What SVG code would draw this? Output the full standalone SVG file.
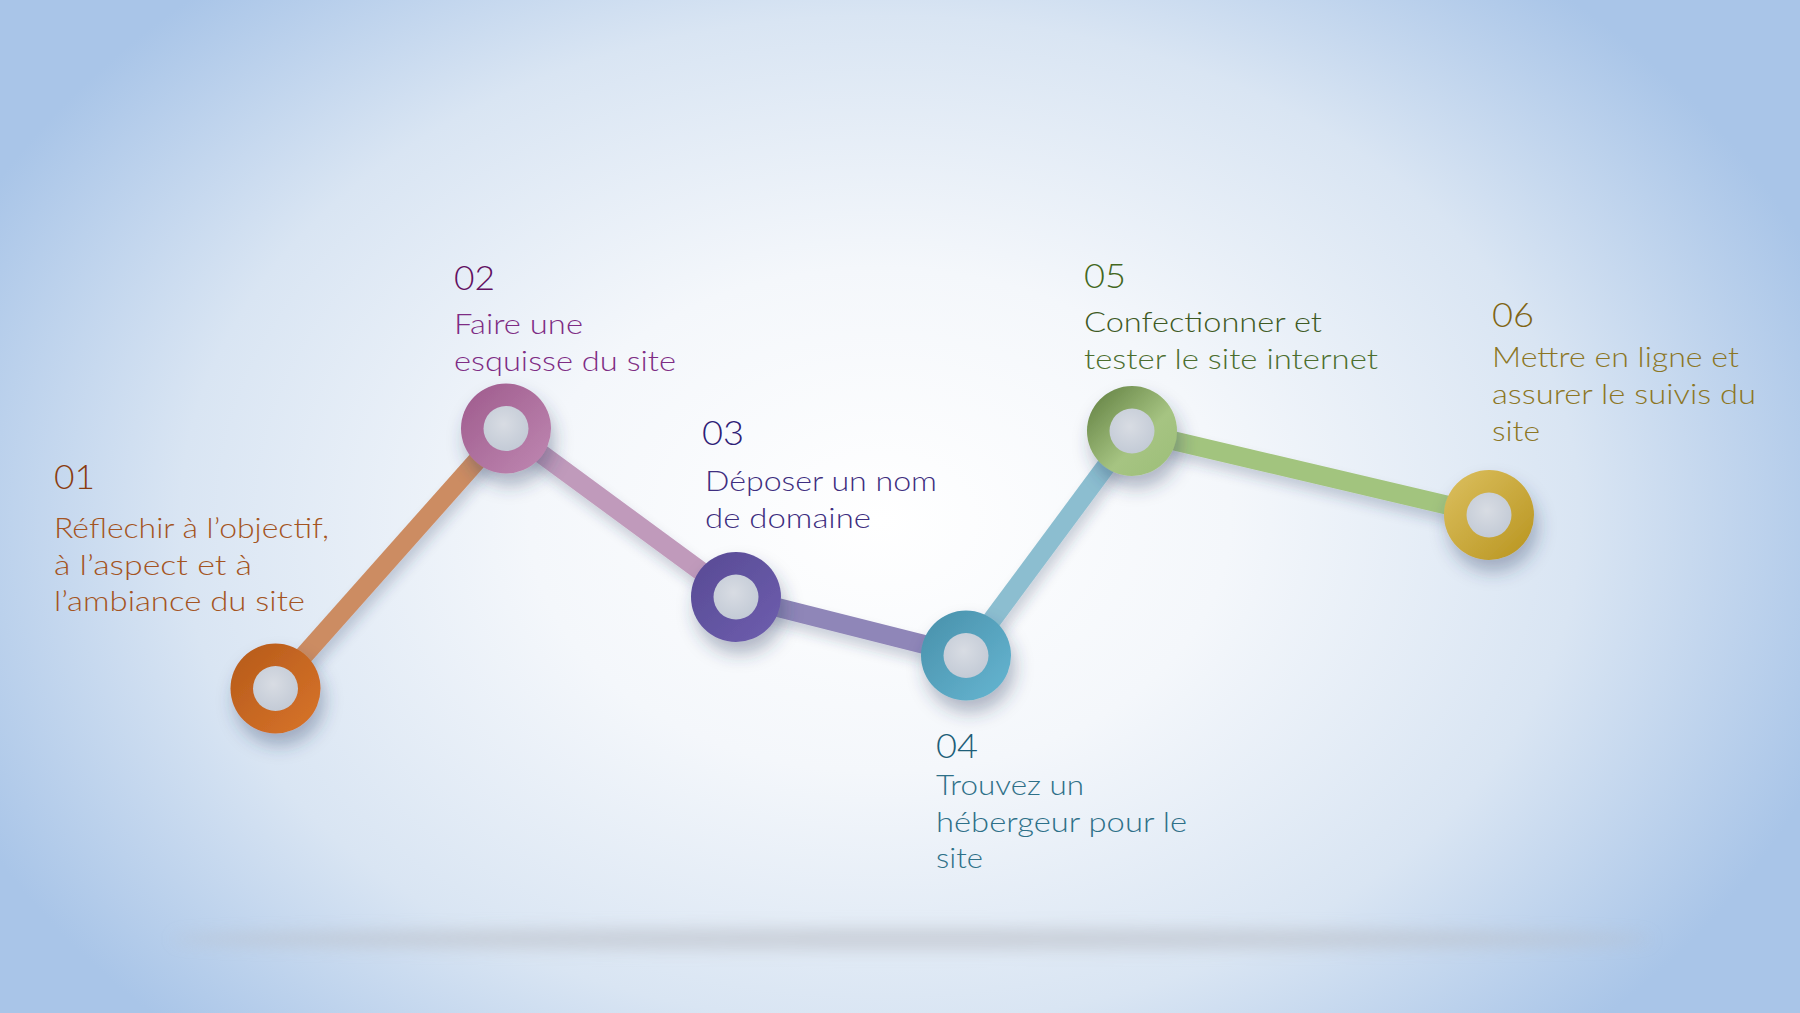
<svg xmlns="http://www.w3.org/2000/svg" width="1800" height="1013" viewBox="0 0 1800 1013">
<defs>
<radialGradient id="bg" gradientUnits="userSpaceOnUse" cx="880" cy="520" r="1000" gradientTransform="translate(880 520) scale(1 0.72) translate(-880 -520)">
<stop offset="0" stop-color="#ffffff"/>
<stop offset="0.35" stop-color="#f4f7fb"/>
<stop offset="0.7" stop-color="#d9e5f3"/>
<stop offset="1" stop-color="#a9c5e8"/>
</radialGradient>
<filter id="sh" x="-60%" y="-60%" width="220%" height="220%">
<feGaussianBlur in="SourceAlpha" stdDeviation="9"/>
<feOffset dx="4" dy="12" result="b"/>
<feFlood flood-color="#2c3c60" flood-opacity="0.35"/>
<feComposite in2="b" operator="in"/>
<feMerge><feMergeNode/><feMergeNode in="SourceGraphic"/></feMerge>
</filter>
<filter id="lsh" x="-20%" y="-20%" width="140%" height="140%">
<feGaussianBlur in="SourceAlpha" stdDeviation="6"/>
<feOffset dx="3" dy="9" result="b"/>
<feFlood flood-color="#2c3c60" flood-opacity="0.22"/>
<feComposite in2="b" operator="in"/>
<feMerge><feMergeNode/><feMergeNode in="SourceGraphic"/></feMerge>
</filter>
<filter id="floor" x="-10%" y="-300%" width="120%" height="700%">
<feGaussianBlur stdDeviation="8"/>
</filter>
<linearGradient id="g1" x1="0" y1="0" x2="1" y2="1"><stop offset="0" stop-color="#b55a1a"/><stop offset="1" stop-color="#d8742a"/></linearGradient>
<linearGradient id="g2" x1="0" y1="0" x2="1" y2="1"><stop offset="0" stop-color="#9e5a8c"/><stop offset="1" stop-color="#bf88b2"/></linearGradient>
<linearGradient id="g3" x1="0" y1="0" x2="1" y2="1"><stop offset="0" stop-color="#574a94"/><stop offset="1" stop-color="#6e5eae"/></linearGradient>
<linearGradient id="g4" x1="0" y1="0" x2="1" y2="1"><stop offset="0" stop-color="#4890aa"/><stop offset="1" stop-color="#66b6d2"/></linearGradient>
<linearGradient id="g5" x1="0" y1="0" x2="1" y2="1"><stop offset="0" stop-color="#5e7c3e"/><stop offset="0.6" stop-color="#a6c482"/><stop offset="1" stop-color="#9cbe78"/></linearGradient>
<linearGradient id="g6" x1="0" y1="0" x2="1" y2="1"><stop offset="0" stop-color="#dcc060"/><stop offset="1" stop-color="#b8941e"/></linearGradient>
<radialGradient id="hole" cx="0.45" cy="0.4" r="0.7"><stop offset="0" stop-color="#d8dce3"/><stop offset="1" stop-color="#c0c8d4"/></radialGradient>
</defs>
<style>
.num{font-family:Lato,"Liberation Sans",sans-serif;font-size:33px;font-weight:300;}
.txt{font-family:Lato,"Liberation Sans",sans-serif;font-size:28px;font-weight:300;}
.conn{fill:none;stroke-width:19;stroke-linecap:butt;}
</style>
<rect width="1800" height="1013" fill="url(#bg)"/>
<ellipse cx="912" cy="939" rx="740" ry="11" fill="#b8bcc4" opacity="0.55" filter="url(#floor)"/>

<g id="connectors" filter="url(#lsh)">
<line class="conn" x1="275" y1="688" x2="506" y2="428" stroke="#cc8c62"/>
<line class="conn" x1="506" y1="428" x2="736" y2="597" stroke="#c09abb"/>
<line class="conn" x1="736" y1="597" x2="966" y2="655" stroke="#8f86b8"/>
<line class="conn" x1="966" y1="655" x2="1132" y2="431" stroke="#8cbed0"/>
<line class="conn" x1="1132" y1="431" x2="1489" y2="515" stroke="#a2c47e"/>
</g>

<g id="node1">
<circle cx="275.5" cy="688.5" r="45" fill="url(#g1)" filter="url(#sh)"/>
<circle cx="275.5" cy="688.5" r="22.5" fill="url(#hole)"/>
<text class="num" x="54" y="489" fill="#8a3c10" textLength="41" lengthAdjust="spacingAndGlyphs">01</text>
<text class="txt" fill="#a45422">
<tspan x="54" y="538" textLength="275" lengthAdjust="spacingAndGlyphs">Réflechir à l’objectif,</tspan>
<tspan x="54" y="575" textLength="198" lengthAdjust="spacingAndGlyphs">à l’aspect et à</tspan>
<tspan x="54" y="611" textLength="251" lengthAdjust="spacingAndGlyphs">l’ambiance du site</tspan>
</text>
</g>

<g id="node2">
<circle cx="506" cy="428.5" r="45" fill="url(#g2)" filter="url(#sh)"/>
<circle cx="506" cy="428.5" r="22.5" fill="url(#hole)"/>
<text class="num" x="454" y="290" fill="#621062" textLength="41" lengthAdjust="spacingAndGlyphs">02</text>
<text class="txt" fill="#7e2c84">
<tspan x="454" y="334" textLength="129" lengthAdjust="spacingAndGlyphs">Faire une</tspan>
<tspan x="454" y="371" textLength="222" lengthAdjust="spacingAndGlyphs">esquisse du site</tspan>
</text>
</g>

<g id="node3">
<circle cx="736" cy="597" r="45" fill="url(#g3)" filter="url(#sh)"/>
<circle cx="736" cy="597" r="22.5" fill="url(#hole)"/>
<text class="num" x="702" y="445" fill="#2e2076" textLength="42" lengthAdjust="spacingAndGlyphs">03</text>
<text class="txt" fill="#3e2e80">
<tspan x="705" y="491" textLength="232" lengthAdjust="spacingAndGlyphs">Déposer un nom</tspan>
<tspan x="705" y="528" textLength="166" lengthAdjust="spacingAndGlyphs">de domaine</tspan>
</text>
</g>

<g id="node4">
<circle cx="966" cy="655.5" r="45" fill="url(#g4)" filter="url(#sh)"/>
<circle cx="966" cy="655.5" r="22.5" fill="url(#hole)"/>
<text class="num" x="936" y="758" fill="#1e5e78" textLength="42" lengthAdjust="spacingAndGlyphs">04</text>
<text class="txt" fill="#2e7088">
<tspan x="936" y="795" textLength="148" lengthAdjust="spacingAndGlyphs">Trouvez un</tspan>
<tspan x="936" y="832" textLength="251" lengthAdjust="spacingAndGlyphs">hébergeur pour le</tspan>
<tspan x="936" y="868" textLength="47" lengthAdjust="spacingAndGlyphs">site</tspan>
</text>
</g>

<g id="node5">
<circle cx="1132" cy="431" r="45" fill="url(#g5)" filter="url(#sh)"/>
<circle cx="1132" cy="431" r="22.5" fill="url(#hole)"/>
<text class="num" x="1084" y="288" fill="#44681e" textLength="42" lengthAdjust="spacingAndGlyphs">05</text>
<text class="txt">
<tspan x="1084" y="332" fill="#3e5a24" textLength="238" lengthAdjust="spacingAndGlyphs">Confectionner et</tspan>
<tspan x="1084" y="369" fill="#4c6e2e" textLength="294" lengthAdjust="spacingAndGlyphs">tester le site internet</tspan>
</text>
</g>

<g id="node6">
<circle cx="1489" cy="515" r="45" fill="url(#g6)" filter="url(#sh)"/>
<circle cx="1489" cy="515" r="22.5" fill="url(#hole)"/>
<text class="num" x="1492" y="327" fill="#806414" textLength="42" lengthAdjust="spacingAndGlyphs">06</text>
<text class="txt" fill="#8c7624">
<tspan x="1492" y="367" textLength="247" lengthAdjust="spacingAndGlyphs">Mettre en ligne et</tspan>
<tspan x="1492" y="404" textLength="264" lengthAdjust="spacingAndGlyphs">assurer le suivis du</tspan>
<tspan x="1492" y="441" textLength="48" lengthAdjust="spacingAndGlyphs">site</tspan>
</text>
</g>
</svg>
